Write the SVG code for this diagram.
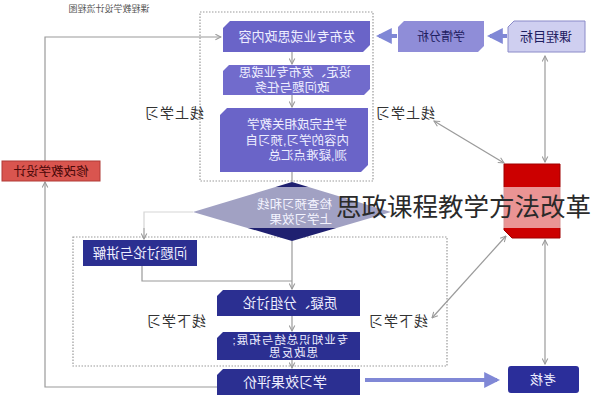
<svg xmlns="http://www.w3.org/2000/svg" width="592" height="400" viewBox="0 0 592 400">
<style>
text{font-family:"Liberation Sans","Noto Sans CJK SC",sans-serif}
.wt{fill:#eeeeff;font-size:13px}
.dk{fill:#1e2060;font-size:13px}
.lbl{fill:#333;font-size:14px;letter-spacing:1px}
.ln{fill:none;stroke:#9a9a9a;stroke-width:1.2}
.dot{fill:none;stroke:#9a9a9a;stroke-width:1.2;stroke-dasharray:1.5 1.5}
.thick{fill:none;stroke:#8088d6;stroke-width:4}
.pur{fill:#6a64c8}
.navy{fill:#2b2f91}
</style>
<defs>
<marker id="ah" viewBox="0 0 10 10" refX="9" refY="5" markerWidth="7" markerHeight="7" orient="auto-start-reverse" markerUnits="userSpaceOnUse">
<path d="M1,1 L9,5 L1,9" fill="none" stroke="#9a9a9a" stroke-width="1.5"/>
</marker>
<marker id="th" viewBox="0 0 10 10" refX="8" refY="5" markerWidth="4" markerHeight="4" orient="auto">
<path d="M0,0 L10,5 L0,10 Z" fill="#8088d6"/>
</marker>
</defs>

<text transform="scale(-1,1)" x="-109" y="12" text-anchor="middle" style="fill:#555;font-size:9px">课程教学设计流程图</text>

<rect class="dot" x="200" y="12" width="173" height="169"/>
<rect class="dot" x="73" y="237" width="374" height="129"/>

<g id="connectors">
<path class="ln" d="M292,52 V64" marker-end="url(#ah)"/>
<path class="ln" d="M292,95 V107" marker-end="url(#ah)"/>
<path class="ln" d="M292,172 V182"/>
<path class="ln" d="M193,212 H144 V239" marker-end="url(#ah)"/>
<path class="ln" d="M292,241 V289" marker-end="url(#ah)"/>
<path class="ln" d="M142,266 V281 H292" />
<path class="ln" d="M292,316 V331" marker-end="url(#ah)"/>
<path class="ln" d="M292,360 V368" marker-end="url(#ah)"/>
<path class="ln" d="M217,387 H45 V182" marker-end="url(#ah)"/>
<path class="ln" d="M45,161 V37 H221" marker-end="url(#ah)"/>
<path class="ln" d="M545,56 V162" marker-start="url(#ah)" marker-end="url(#ah)"/>
<path class="ln" d="M545,240 V364" marker-start="url(#ah)" marker-end="url(#ah)"/>
<path class="ln" d="M434,121 L504,163" marker-start="url(#ah)" marker-end="url(#ah)"/>
<path class="ln" d="M432,318 L506,236" marker-start="url(#ah)" marker-end="url(#ah)"/>
<path class="thick" d="M507,36 H490" marker-end="url(#th)"/>
<path class="thick" d="M397,36 H379" marker-end="url(#th)"/>
<path class="thick" d="M365,380 H497" marker-end="url(#th)"/>
</g>

<g id="n-kcmb">
<path d="M514,21 H585 V52 H508 V27 Z" fill="#cfcff0" stroke="#8a8ac8" stroke-width="1"/>
<text class="dk" transform="scale(-1,1)" x="-546" y="41" text-anchor="middle">课程目标</text>
</g>
<g id="n-xqfx">
<path d="M404,21 H484 V46 L478,52 H398 V27 Z" fill="#8f8dd8"/>
<text class="dk" transform="scale(-1,1)" x="-441" y="41" text-anchor="middle" style="font-size:12px">学情分析</text>
</g>
<g id="n-fb">
<path class="pur" d="M230,21 H370 V45 L363,52 H223 V28 Z"/>
<text class="wt" transform="scale(-1,1)" x="-297" y="41" text-anchor="middle">发布专业或思政内容</text>
</g>
<g id="n-sd">
<path d="M229,65 H370 V89 L364,95 H223 V71 Z" fill="#716bcc"/>
<text class="wt" transform="scale(-1,1)" x="-295" y="77" text-anchor="middle" style="font-size:12.5px">设定、发布专业或思</text>
<text class="wt" transform="scale(-1,1)" x="-292" y="92" text-anchor="middle" style="font-size:12.5px">政问题与任务</text>
</g>
<g id="n-xs">
<path class="pur" d="M227,108 H368 V165 L361,172 H220 V115 Z"/>
<text class="wt" transform="scale(-1,1)" x="-347" y="129" style="font-size:12.5px">学生完成相关教学</text>
<text class="wt" transform="scale(-1,1)" x="-349" y="144.5" style="font-size:12.5px">内容的学习,预习自</text>
<text class="wt" transform="scale(-1,1)" x="-347" y="160" style="font-size:12.5px">测,疑难点汇总</text>
</g>
<g id="n-jc">
<path d="M292,182 L391,212 L292,241 L193,212 Z" fill="#1f2070"/>
</g>
<g id="n-xg">
<rect x="2" y="161" width="98" height="20" fill="#d9554f" stroke="#b03a36" stroke-width="1"/>
<text transform="scale(-1,1)" x="-51" y="176" text-anchor="middle" style="fill:#4a0808;font-size:12.5px">修改教学设计</text>
</g>
<g id="n-red">
<path d="M504,164 H560 V238 H512 L504,230 Z" fill="#cc0000" stroke="#a00000" stroke-width="1"/>
</g>

<rect x="120" y="187" width="472" height="41" fill="#ffffff" fill-opacity="0.58"/>
<text transform="scale(-1,1)" x="-332" y="209" style="fill:#f4f4ff;font-size:12.5px">检查预习和线</text>
<text transform="scale(-1,1)" x="-332" y="224" style="fill:#f4f4ff;font-size:12.5px">上学习效果</text>
<text x="336" y="216" style="fill:#2a2a2a;font-size:25.5px">思政课程教学方法改革</text>

<g id="n-wt">
<rect class="navy" x="83" y="240" width="114" height="26"/>
<text class="wt" transform="scale(-1,1)" x="-140" y="258" text-anchor="middle" style="font-size:13.5px">问题讨论与讲解</text>
</g>
<g id="n-zy">
<path class="navy" d="M223,290 H360 V316 H217 V296 Z"/>
<text class="wt" transform="scale(-1,1)" x="-290" y="308" text-anchor="middle" style="font-size:13.5px">质疑、分组讨论</text>
</g>
<g id="n-zs">
<path class="navy" d="M223,332 H360 V360 H217 V338 Z"/>
<text class="wt" transform="scale(-1,1)" x="-290" y="344" text-anchor="middle" style="font-size:11.5px;letter-spacing:1px">专业知识总结与拓展;</text>
<text class="wt" transform="scale(-1,1)" x="-293" y="357" text-anchor="middle" style="font-size:11.5px;letter-spacing:1px">思政反思</text>
</g>
<g id="n-pj">
<path class="navy" d="M223,369 H360 V395 H217 V375 Z"/>
<text class="wt" transform="scale(-1,1)" x="-285" y="387" text-anchor="middle" style="font-size:14px">学习效果评价</text>
</g>
<g id="n-kh">
<rect x="508" y="366" width="71" height="27" rx="3" fill="#2b2e9a"/>
<text class="wt" transform="scale(-1,1)" x="-543" y="384" text-anchor="middle">考核</text>
</g>

<text class="lbl" transform="scale(-1,1)" x="-174" y="118" text-anchor="middle">线上学习</text>
<text class="lbl" transform="scale(-1,1)" x="-405" y="118" text-anchor="middle">线上学习</text>
<text class="lbl" transform="scale(-1,1)" x="-176" y="326" text-anchor="middle">线下学习</text>
<text class="lbl" transform="scale(-1,1)" x="-398" y="326" text-anchor="middle">线下学习</text>
</svg>
